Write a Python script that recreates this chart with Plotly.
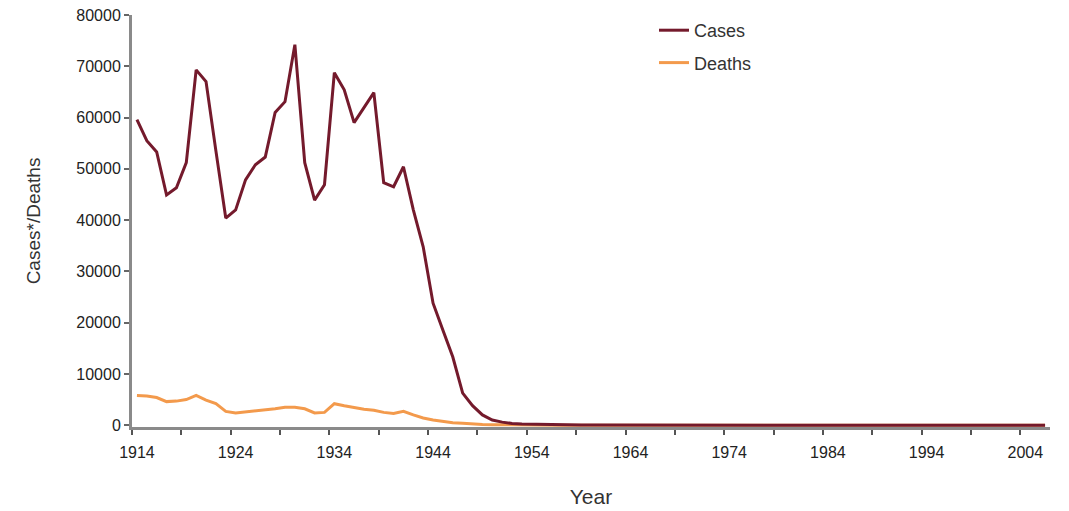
import plotly.graph_objects as go

# Annual notifications, 1914-2006
years = list(range(1914, 2007))

cases = [
    59600, 55500, 53300, 44900, 46300, 51200, 69300, 67000, 53500, 40400,  # 1914-1923
    42000, 47850, 50800, 52300, 61000, 63100, 74200, 51200, 43900, 46900,  # 1924-1933
    68750, 65400, 59000, 61800, 64850, 47300, 46500, 50400, 42000, 34800,  # 1934-1943
    23800, 18500, 13300, 6250, 3800, 2000, 1000, 600, 350, 250,            # 1944-1953
    200, 150, 120, 100, 80, 60, 50, 40, 30, 25,                            # 1954-1963
    20, 15, 12, 10, 8, 6, 5, 4, 3, 3,                                      # 1964-1973
    2, 2, 2, 1, 1, 1, 1, 1, 0, 0,                                          # 1974-1983
    0, 0, 0, 0, 0, 0, 0, 0, 0, 0,                                          # 1984-1993
    0, 0, 0, 0, 0, 0, 0, 0, 0, 0,                                          # 1994-2003
    0, 0, 0,                                                               # 2004-2006
]

deaths = [
    5800, 5700, 5400, 4600, 4700, 5000, 5800, 4900, 4200, 2700,  # 1914-1923
    2400, 2600, 2700, 2900, 3200, 3500, 3500, 3200, 2400, 2500,  # 1924-1933
    4200, 3800, 3400, 3100, 2900, 2500, 2300, 2700, 2000, 1400,  # 1934-1943
    1000, 700, 500, 400, 250, 150, 100, 70, 50, 40,              # 1944-1953
    30, 20, 15, 10, 8, 6, 5, 4, 3, 2,                            # 1954-1963
    2, 1, 1, 1, 1, 0, 0, 0, 0, 0,                                # 1964-1973
    0, 0, 0, 0, 0, 0, 0, 0, 0, 0,                                # 1974-1983
    0, 0, 0, 0, 0, 0, 0, 0, 0, 0,                                # 1984-1993
    0, 0, 0, 0, 0, 0, 0, 0, 0, 0,                                # 1994-2003
    0, 0, 0,                                                     # 2004-2006
]

x_labels = list(range(1914, 2005, 10))
y_ticks = list(range(0, 80001, 10000))

CASES_COLOR = "#741a2c"
DEATHS_COLOR = "#f39a4c"
AXIS_COLOR = "#8a8a8a"
FONT = "Liberation Sans, Arial, sans-serif"

# Category-style year axis: each year occupies one slot, labels sit at the
# slot centres and tick marks on the slot boundaries every five years.
x_lo, x_hi = years[0] - 0.5, years[-1] + 0.5
boundary_ticks = [x_lo + 5 * k for k in range(int((x_hi - x_lo) // 5) + 1)]

fig = go.Figure()
fig.add_trace(go.Scatter(
    x=years, y=deaths, name="Deaths", mode="lines", legendgroup="d",
    line=dict(color=DEATHS_COLOR, width=3), legendrank=2,
))
fig.add_trace(go.Scatter(
    x=years, y=cases, name="Cases", mode="lines", legendgroup="c",
    line=dict(color=CASES_COLOR, width=3), legendrank=1,
))

fig.update_layout(
    width=1069, height=511,
    margin=dict(l=132, r=19, t=15, b=84, autoexpand=False),
    paper_bgcolor="white", plot_bgcolor="white",
    font=dict(family=FONT, color="#222222", size=16),
    showlegend=True,
    legend=dict(
        x=(654 - 132) / 918, y=1.0 + 3 / 412, xanchor="left", yanchor="top",
        font=dict(size=18, color="#333333"),
        bgcolor="rgba(0,0,0,0)", tracegroupgap=6, traceorder="grouped",
    ),
    xaxis=dict(
        range=[x_lo, x_hi],
        tickmode="array", tickvals=x_labels, ticktext=[str(v) for v in x_labels],
        ticks="outside", ticklen=5, tickcolor="rgba(0,0,0,0)",
        ticklabelstandoff=4,
        minor=dict(tickmode="array", tickvals=boundary_ticks, ticks="outside",
                   ticklen=5, tickwidth=2, tickcolor="#555555"),
        showline=True, linecolor=AXIS_COLOR, linewidth=3,
        showgrid=False, zeroline=False, layer="below traces",
        tickfont=dict(size=16),
        title=dict(text="Year", font=dict(size=21, color="#333333"), standoff=30),
    ),
    yaxis=dict(
        range=[-350, 80000],
        tickmode="array", tickvals=y_ticks, ticktext=[str(v) for v in y_ticks],
        ticks="outside", ticklen=5, tickwidth=2, tickcolor="#666666",
        showline=True, linecolor=AXIS_COLOR, linewidth=3,
        showgrid=False, zeroline=False, layer="below traces",
        tickfont=dict(size=16),
        title=dict(text="Cases*/Deaths", font=dict(size=19, color="#333333"), standoff=31),
    ),
)

fig.write_html("out.html")
